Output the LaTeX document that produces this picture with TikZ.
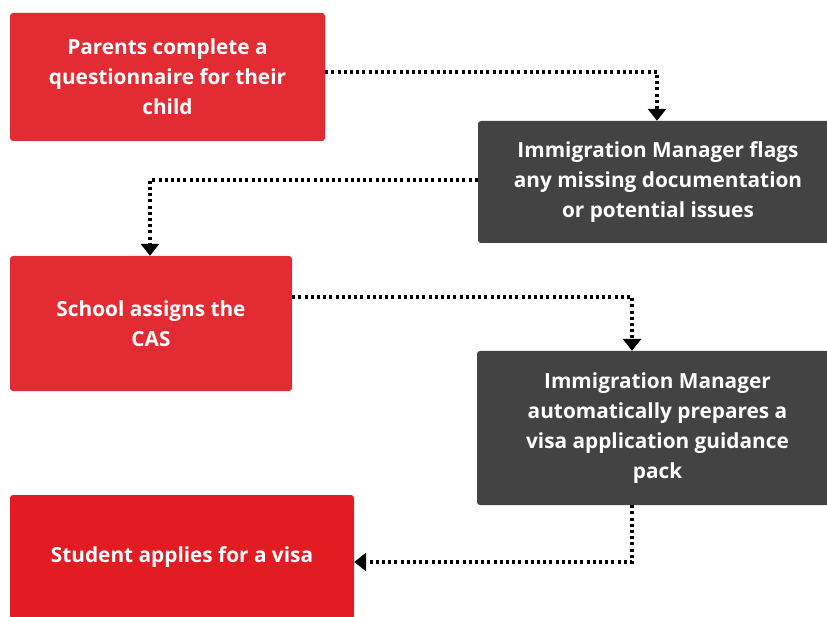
\documentclass[tikz,border=0pt]{standalone}
\usepackage{fontspec}
\setmainfont{Open Sans}
\usetikzlibrary{arrows.meta}
\definecolor{boxred}{HTML}{E32B33}
\definecolor{boxredb}{HTML}{E31B23}
\definecolor{boxdark}{HTML}{434343}
\begin{document}
\begin{tikzpicture}[x=1pt,y=-1pt,
  box/.style={rounded corners=3pt, text=white, align=center, inner sep=0pt,
    font=\fontsize{20.8}{30}\selectfont\bfseries},
  redbox/.style={box, fill=boxred},
  darkbox/.style={box, fill=boxdark},
  flow/.style={line width=3.2pt, dash pattern=on 3pt off 3.2pt,
    -{Triangle[width=18pt,length=12pt]}}]
\useasboundingbox (0,0) rectangle (827,617);
\node[redbox, minimum width=315, minimum height=128] (a) at (167.5,77)
  {Parents complete a\\questionnaire for their\\child};
\node[darkbox, minimum width=360, minimum height=122] (b) at (658,182)
  {Immigration Manager flags\\any missing documentation\\or potential issues};
\node[redbox, minimum width=282, minimum height=135] (c) at (151,323.5)
  {School assigns the\\CAS};
\node[darkbox, minimum width=361, minimum height=154] (d) at (657.5,428)
  {Immigration Manager\\automatically prepares a\\visa application guidance\\pack};
\node[box, fill=boxredb, minimum width=344, minimum height=124] (e) at (182,557)
  {Student applies for a visa};
\coordinate (k1) at (657,72);
\coordinate (k2) at (150,180);
\coordinate (k3) at (632,297);
\coordinate (k4) at (632,562);
\draw[flow] (a.east |- k1) -- (k1) -- (k1 |- b.north);
\draw[flow] (b.west |- k2) -- (k2) -- (k2 |- c.north);
\draw[flow] (c.east |- k3) -- (k3) -- (k3 |- d.north);
\draw[flow] (k4 |- d.south) -- (k4) -- (e.east |- k4);
\end{tikzpicture}
\end{document}
